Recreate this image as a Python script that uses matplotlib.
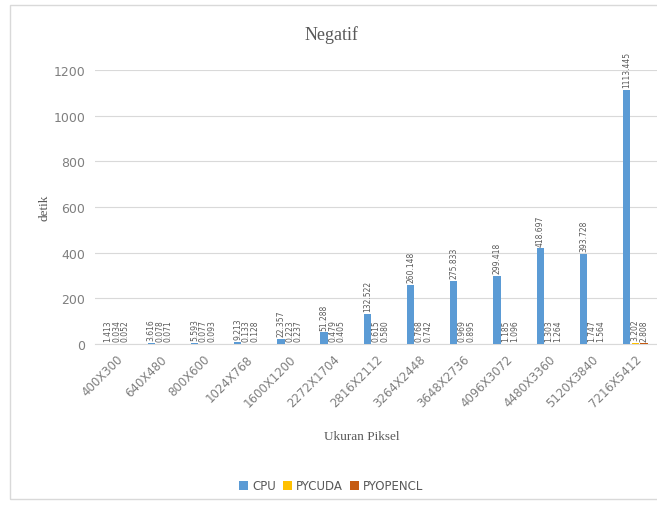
import numpy as np
import matplotlib.pyplot as plt
from matplotlib.patches import Rectangle

# data
ukuran = ["400X300", "640X480", "800X600", "1024X768", "1600X1200", "2272X1704",
          "2816X2112", "3264X2448", "3648X2736", "4096X3072", "4480X3360",
          "5120X3840", "7216X5412"]
cpu = [1.413, 3.616, 5.593, 9.213, 22.357, 51.288, 132.522, 260.148, 275.833,
       299.418, 418.697, 393.728, 1113.445]
pycuda = [0.034, 0.078, 0.077, 0.133, 0.223, 0.479, 0.615, 0.768, 0.969,
          1.185, 1.303, 1.747, 3.202]
pyopencl = [0.052, 0.071, 0.093, 0.128, 0.237, 0.405, 0.580, 0.742, 0.895,
            1.096, 1.264, 1.564, 2.808]
yticks = [0, 200, 400, 600, 800, 1000, 1200]

W, H = 657, 506
fig = plt.figure(figsize=(W / 100, H / 100), dpi=100)

# light frame around the chart
fig.patches.append(Rectangle((10 / W, 6 / H), 660 / W, 494 / H, transform=fig.transFigure,
                             fill=False, edgecolor="#d9d9d9", linewidth=1))

ax = fig.add_axes([95 / W, 161 / H, 562 / W, 274 / H])
x = np.arange(len(ukuran))
bw = 0.17
series = [("CPU", cpu, "#5b9bd5", -0.2),
          ("PYCUDA", pycuda, "#ffc000", 0.0),
          ("PYOPENCL", pyopencl, "#c55a11", 0.2)]

for nama, vals, warna, off in series:
    ax.bar(x + off, vals, width=bw, color=warna, label=nama, zorder=3)
    for xi, v in zip(x, vals):
        ax.annotate(f"{v:.3f}", (xi + off, v), xytext=(0, 2), textcoords="offset points",
                    rotation=90, ha="center", va="bottom", fontsize=5.5,
                    color="#595959", zorder=4)

ax.set_xlim(-0.5, len(ukuran) - 0.5)
ax.set_ylim(0, 1200)
ax.set_yticks(yticks)
ax.yaxis.grid(True, color="#d9d9d9", linewidth=0.8, zorder=0)
for s in ["top", "right", "left"]:
    ax.spines[s].set_visible(False)
ax.spines["bottom"].set_color("#d9d9d9")
ax.tick_params(axis="both", length=0, colors="#7f7f7f", labelsize=9)
ax.tick_params(axis="y", pad=7)
ax.set_xticks(x)
ax.set_xticklabels(ukuran, rotation=45, ha="right", rotation_mode="anchor", fontsize=8.5)
ax.tick_params(axis="x", pad=6)

fig.text(331 / W, 1 - 35 / H, "Negatif", ha="center", va="center",
         fontsize=13, color="#595959", family="Liberation Serif")
fig.text(362 / W, 1 - 437 / H, "Ukuran Piksel", ha="center", va="center",
         fontsize=9.5, color="#595959", family="Liberation Serif")
fig.text(45 / W, 1 - 208 / H, "detik", ha="center", va="center", rotation=90,
         fontsize=9.5, color="#595959", family="Liberation Serif")

fig.legend(loc="center", bbox_to_anchor=(331 / W, 1 - 487 / H), ncol=3, frameon=False,
           fontsize=8.5, handlelength=0.8, handleheight=0.8, handletextpad=0.3,
           columnspacing=0.6, labelcolor="#595959")

fig.savefig("out.png", dpi=100)
